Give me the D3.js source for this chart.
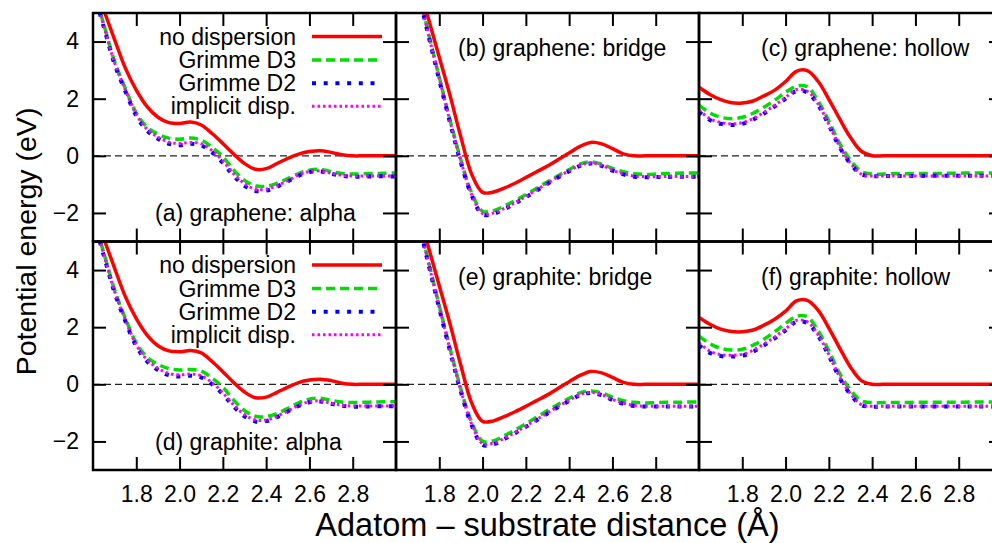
<!DOCTYPE html>
<html>
<head>
<meta charset="utf-8">
<script src="https://cdn.jsdelivr.net/npm/d3@7"></script>
<style>
  body { margin: 0; background: #fff; }
  svg { display: block; font-family: "Liberation Sans", Arial, Helvetica, sans-serif; }
</style>
</head>
<body>
<div class="chart"></div>
<script>
// shared x grid (Angstrom)
const distance = [1.6, 1.65, 1.7, 1.75, 1.8, 1.85, 1.9, 1.95, 2.0, 2.05, 2.1, 2.15, 2.2, 2.25, 2.3,
    2.35, 2.4, 2.45, 2.5, 2.55, 2.6, 2.65, 2.7, 2.75, 2.8, 2.85, 2.9, 2.95, 3.0];

const xTicks = [1.8, 2.0, 2.2, 2.4, 2.6, 2.8];
const yTicks = [-2, 0, 2, 4];
const seriesNames = ['no dispersion', 'Grimme D3', 'Grimme D2', 'implicit disp.'];
const panelLabels = ['(a) graphene: alpha', '(b) graphene: bridge', '(c) graphene: hollow',
    '(d) graphite: alpha', '(e) graphite: bridge', '(f) graphite: hollow'];

// (a) graphene: alpha
const grapheneAlphaNone = [6.1, 5.1, 4.06, 3.06, 2.3, 1.72, 1.35, 1.16, 1.13, 1.18, 1.08, 0.78, 0.43, 0.06, -0.27, -0.47, -0.45, -0.27, -0.09, 0.06, 0.15, 0.18, 0.12, 0.04, 0, 0, 0, 0, 0];
const grapheneAlphaD3 = [5.9, 4.6, 3.3, 2.35, 1.5, 1.0, 0.76, 0.62, 0.58, 0.62, 0.55, 0.3, -0.03, -0.5, -0.86, -1.05, -1.07, -0.96, -0.8, -0.62, -0.5, -0.47, -0.55, -0.62, -0.64, -0.63, -0.62, -0.61, -0.6];
const grapheneAlphaD2 = [5.8, 4.5, 3.2, 2.25, 1.4, 0.88, 0.6, 0.42, 0.37, 0.42, 0.36, 0.12, -0.25, -0.7, -1.05, -1.23, -1.22, -1.08, -0.9, -0.7, -0.57, -0.55, -0.63, -0.7, -0.73, -0.73, -0.72, -0.72, -0.72];
const grapheneAlphaImplicit = [5.85, 4.55, 3.25, 2.3, 1.45, 0.93, 0.66, 0.48, 0.43, 0.47, 0.42, 0.18, -0.18, -0.63, -0.98, -1.17, -1.17, -1.04, -0.87, -0.67, -0.55, -0.53, -0.61, -0.68, -0.71, -0.71, -0.71, -0.71, -0.71];

// (b) graphene: bridge
const grapheneBridgeNone = [8.8, 7.5, 6.2, 4.8, 3.45, 2.1, 0.65, -0.65, -1.28, -1.27, -1.13, -0.96, -0.76, -0.56, -0.36, -0.13, 0.1, 0.33, 0.47, 0.42, 0.25, 0.07, 0, 0, 0, 0, 0, 0, 0];
const grapheneBridgeD3 = [9.0, 7.4, 5.9, 4.3, 2.75, 1.25, -0.15, -1.3, -1.94, -1.92, -1.76, -1.57, -1.36, -1.14, -0.91, -0.69, -0.48, -0.29, -0.21, -0.29, -0.44, -0.56, -0.63, -0.65, -0.64, -0.62, -0.61, -0.6, -0.6];
const grapheneBridgeD2 = [8.9, 7.3, 5.8, 4.2, 2.65, 1.15, -0.25, -1.4, -2.05, -2.03, -1.87, -1.67, -1.45, -1.22, -0.98, -0.75, -0.54, -0.35, -0.27, -0.35, -0.52, -0.65, -0.73, -0.75, -0.74, -0.74, -0.73, -0.73, -0.73];
const grapheneBridgeImplicit = [8.95, 7.35, 5.85, 4.25, 2.7, 1.2, -0.2, -1.36, -2.02, -2.0, -1.84, -1.64, -1.42, -1.19, -0.96, -0.73, -0.52, -0.33, -0.25, -0.33, -0.5, -0.63, -0.71, -0.73, -0.73, -0.72, -0.72, -0.72, -0.72];

// (c) graphene: hollow
const grapheneHollowNone = [2.4, 2.15, 1.97, 1.86, 1.85, 1.92, 2.1, 2.3, 2.6, 2.96, 2.98, 2.61, 1.98, 1.29, 0.64, 0.16, 0, 0, 0, 0, 0, 0, 0, 0, 0, 0, 0, 0, 0];
const grapheneHollowD3 = [1.78, 1.5, 1.35, 1.3, 1.35, 1.49, 1.7, 1.95, 2.22, 2.44, 2.42, 1.92, 1.22, 0.43, -0.15, -0.55, -0.64, -0.64, -0.63, -0.63, -0.62, -0.62, -0.62, -0.61, -0.61, -0.6, -0.6, -0.6, -0.6];
const grapheneHollowD2 = [1.54, 1.25, 1.12, 1.08, 1.12, 1.27, 1.48, 1.73, 2.0, 2.27, 2.22, 1.78, 1.07, 0.3, -0.28, -0.65, -0.71, -0.71, -0.71, -0.71, -0.71, -0.7, -0.7, -0.7, -0.7, -0.7, -0.7, -0.7, -0.7];
const grapheneHollowImplicit = [1.6, 1.3, 1.17, 1.12, 1.16, 1.3, 1.52, 1.77, 2.05, 2.32, 2.26, 1.82, 1.1, 0.33, -0.26, -0.64, -0.71, -0.71, -0.71, -0.71, -0.71, -0.71, -0.71, -0.71, -0.71, -0.71, -0.71, -0.71, -0.71];

// (d) graphite: alpha
const graphiteAlphaNone = [6.1, 5.1, 4.06, 3.06, 2.3, 1.72, 1.35, 1.17, 1.14, 1.18, 1.1, 0.8, 0.44, 0.06, -0.27, -0.47, -0.45, -0.28, -0.1, 0.06, 0.15, 0.18, 0.13, 0.04, 0, 0, 0, 0, 0];
const graphiteAlphaD3 = [5.9, 4.6, 3.3, 2.3, 1.45, 0.95, 0.7, 0.55, 0.5, 0.52, 0.46, 0.22, -0.1, -0.55, -0.92, -1.12, -1.13, -1.02, -0.84, -0.65, -0.52, -0.49, -0.56, -0.62, -0.64, -0.63, -0.62, -0.61, -0.61];
const graphiteAlphaD2 = [5.8, 4.5, 3.2, 2.2, 1.33, 0.8, 0.5, 0.32, 0.27, 0.3, 0.24, 0.0, -0.35, -0.78, -1.12, -1.3, -1.29, -1.15, -0.95, -0.76, -0.63, -0.6, -0.68, -0.75, -0.78, -0.78, -0.77, -0.77, -0.77];
const graphiteAlphaImplicit = [5.85, 4.55, 3.25, 2.25, 1.38, 0.86, 0.56, 0.38, 0.33, 0.36, 0.3, 0.06, -0.3, -0.72, -1.06, -1.25, -1.25, -1.12, -0.93, -0.74, -0.61, -0.58, -0.66, -0.73, -0.76, -0.76, -0.76, -0.76, -0.76];

// (e) graphite: bridge
const graphiteBridgeNone = [8.8, 7.5, 6.2, 4.8, 3.45, 2.1, 0.65, -0.66, -1.3, -1.28, -1.13, -0.96, -0.77, -0.57, -0.37, -0.14, 0.09, 0.31, 0.45, 0.4, 0.24, 0.07, 0, 0, 0, 0, 0, 0, 0];
const graphiteBridgeD3 = [9.0, 7.4, 5.9, 4.3, 2.75, 1.25, -0.17, -1.33, -1.99, -1.98, -1.8, -1.6, -1.38, -1.15, -0.92, -0.7, -0.49, -0.3, -0.23, -0.3, -0.45, -0.57, -0.63, -0.65, -0.64, -0.63, -0.63, -0.62, -0.62];
const graphiteBridgeD2 = [8.9, 7.3, 5.8, 4.2, 2.65, 1.15, -0.27, -1.44, -2.12, -2.1, -1.92, -1.71, -1.49, -1.26, -1.02, -0.79, -0.58, -0.38, -0.3, -0.38, -0.55, -0.68, -0.76, -0.78, -0.78, -0.78, -0.78, -0.78, -0.78];
const graphiteBridgeImplicit = [8.95, 7.35, 5.85, 4.25, 2.7, 1.2, -0.23, -1.4, -2.08, -2.06, -1.89, -1.68, -1.46, -1.23, -1.0, -0.77, -0.56, -0.36, -0.28, -0.36, -0.53, -0.66, -0.74, -0.77, -0.77, -0.77, -0.77, -0.77, -0.77];

// (f) graphite: hollow
const graphiteHollowNone = [2.34, 2.1, 1.93, 1.85, 1.84, 1.9, 2.07, 2.28, 2.56, 2.92, 2.94, 2.6, 1.97, 1.27, 0.6, 0.13, 0, 0, 0, 0, 0, 0, 0, 0, 0, 0, 0, 0, 0];
const graphiteHollowD3 = [1.69, 1.42, 1.26, 1.2, 1.23, 1.37, 1.58, 1.84, 2.13, 2.38, 2.36, 1.88, 1.17, 0.38, -0.2, -0.58, -0.64, -0.64, -0.64, -0.64, -0.63, -0.63, -0.63, -0.63, -0.63, -0.62, -0.62, -0.62, -0.62];
const graphiteHollowD2 = [1.37, 1.1, 0.99, 0.97, 1.0, 1.14, 1.36, 1.61, 1.89, 2.19, 2.15, 1.7, 1.0, 0.22, -0.36, -0.73, -0.78, -0.78, -0.78, -0.78, -0.78, -0.78, -0.78, -0.78, -0.78, -0.78, -0.78, -0.78, -0.78];
const graphiteHollowImplicit = [1.45, 1.16, 1.04, 1.02, 1.05, 1.19, 1.41, 1.66, 1.94, 2.24, 2.19, 1.74, 1.04, 0.26, -0.33, -0.71, -0.77, -0.77, -0.77, -0.77, -0.77, -0.77, -0.77, -0.77, -0.77, -0.77, -0.77, -0.77, -0.77];

const panels = [
    [grapheneAlphaNone, grapheneAlphaD3, grapheneAlphaD2, grapheneAlphaImplicit],
    [grapheneBridgeNone, grapheneBridgeD3, grapheneBridgeD2, grapheneBridgeImplicit],
    [grapheneHollowNone, grapheneHollowD3, grapheneHollowD2, grapheneHollowImplicit],
    [graphiteAlphaNone, graphiteAlphaD3, graphiteAlphaD2, graphiteAlphaImplicit],
    [graphiteBridgeNone, graphiteBridgeD3, graphiteBridgeD2, graphiteBridgeImplicit],
    [graphiteHollowNone, graphiteHollowD3, graphiteHollowD2, graphiteHollowImplicit]
];

// line styles: no dispersion, D3, D2, implicit
const styles = [
    { color: '#ff0000', width: 3.5, dash: null },
    { color: '#00dd00', width: 3.5, dash: '9,5' },
    { color: '#0000ff', width: 4, dash: '4,7.7' },
    { color: '#ff00ff', width: 3, dash: '2.5,3' }
];

const width = 992, height = 543;
const margin = { top: 13, left: 93 };
const pw = 303, ph = 228.5;
const tickLen = 13;
const fontSize = 23;

const svg = d3.select('.chart').append('svg')
    .attr('width', width)
    .attr('height', height);

const x = d3.scaleLinear().domain([1.6, 3.0]).range([0, pw]);
const y = d3.scaleLinear().domain([-3, 5]).range([ph, 0]);

const line = d3.line()
    .x((d, i) => x(distance[i]))
    .y(d => y(d))
    .curve(d3.curveCatmullRom.alpha(0.5));

panels.forEach((series, p) => {
    const col = p % 3, row = Math.floor(p / 3);
    const g = svg.append('g')
        .attr('transform', `translate(${margin.left + col * pw},${margin.top + row * ph})`);

    svg.append('clipPath').attr('id', 'clip' + p)
        .append('rect').attr('width', pw).attr('height', ph);

    // zero reference line
    g.append('line')
        .attr('x1', 0).attr('x2', pw)
        .attr('y1', y(0)).attr('y2', y(0))
        .attr('stroke', '#222')
        .attr('stroke-width', 1.2)
        .attr('stroke-dasharray', '7,4');

    const curves = g.append('g').attr('clip-path', `url(#clip${p})`);
    series.forEach((vals, s) => {
        curves.append('path')
            .attr('d', line(vals))
            .attr('fill', 'none')
            .attr('stroke', styles[s].color)
            .attr('stroke-width', styles[s].width)
            .attr('stroke-dasharray', styles[s].dash);
    });

    // ticks on all four sides
    const fmtX = row === 1 ? d3.format('.1f') : () => '';
    const fmtY = col === 0 ? d3.format('d') : () => '';
    const axes = [
        g.append('g').attr('transform', `translate(0,${ph})`)
            .call(d3.axisBottom(x).tickValues(xTicks).tickSizeInner(-tickLen).tickSizeOuter(0).tickPadding(16).tickFormat(fmtX)),
        g.append('g')
            .call(d3.axisTop(x).tickValues(xTicks).tickSizeInner(-tickLen).tickSizeOuter(0).tickFormat(() => '')),
        g.append('g')
            .call(d3.axisLeft(y).tickValues(yTicks).tickSizeInner(-tickLen).tickSizeOuter(0).tickPadding(14).tickFormat(fmtY)),
        g.append('g').attr('transform', `translate(${pw},0)`)
            .call(d3.axisRight(y).tickValues(yTicks).tickSizeInner(-tickLen).tickSizeOuter(0).tickFormat(() => ''))
    ];
    axes.forEach(a => {
        a.select('.domain').remove();
        a.attr('font-family', null).attr('font-size', fontSize);
        a.selectAll('.tick line').attr('stroke', '#000').attr('stroke-width', 2);
        a.selectAll('.tick text').attr('fill', '#000');
    });

    // frame
    g.append('rect')
        .attr('width', pw).attr('height', ph)
        .attr('fill', 'none')
        .attr('stroke', '#000')
        .attr('stroke-width', 2.5);

    // panel label
    const isAlpha = col === 0;
    g.append('text')
        .attr('x', 62)
        .attr('y', isAlpha ? 200 : 35)
        .attr('dy', '0.35em')
        .attr('font-size', fontSize)
        .text(panelLabels[p]);

    // legend in the alpha panels
    if (isAlpha) {
        const rowsY = [23.5, 47, 70.3, 93.3];
        seriesNames.forEach((name, s) => {
            g.append('text')
                .attr('x', 203)
                .attr('y', rowsY[s])
                .attr('dy', '0.35em')
                .attr('text-anchor', 'end')
                .attr('font-size', fontSize)
                .text(name);
            g.append('line')
                .attr('x1', 219).attr('x2', 289)
                .attr('y1', rowsY[s]).attr('y2', rowsY[s])
                .attr('stroke', styles[s].color)
                .attr('stroke-width', styles[s].width)
                .attr('stroke-dasharray', styles[s].dash);
        });
    }
});

// axis titles
svg.append('text')
    .attr('x', margin.left + 1.5 * pw)
    .attr('y', 536)
    .attr('text-anchor', 'middle')
    .attr('font-size', 32.5)
    .text('Adatom – substrate distance (Å)');

svg.append('text')
    .attr('transform', `translate(36,${margin.top + ph}) rotate(-90)`)
    .attr('text-anchor', 'middle')
    .attr('font-size', 28.5)
    .text('Potential energy (eV)');
</script>
</body>
</html>
